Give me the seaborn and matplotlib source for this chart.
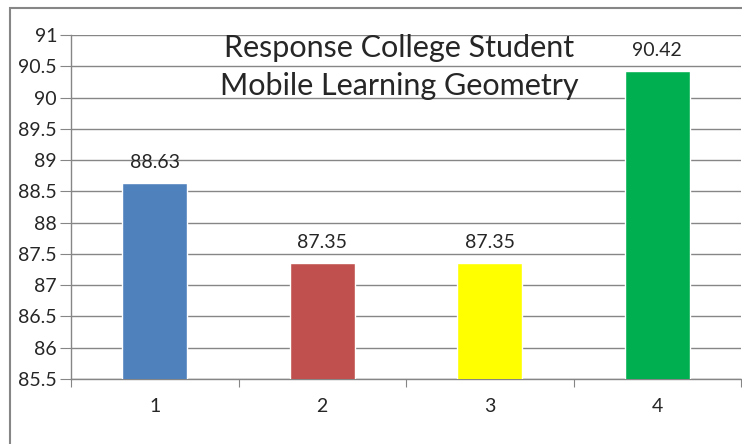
import matplotlib
matplotlib.use("Agg")
import matplotlib.pyplot as plt
import seaborn as sns
import pandas as pd
from matplotlib.patches import Rectangle

categories = ["1", "2", "3", "4"]
values = [88.63, 87.35, 87.35, 90.42]
colors = ["#4F81BD", "#C0504D", "#FFFF00", "#00B050"]
title_lines = ["Response College Student", "Mobile Learning Geometry"]
yticks = [85.5, 86, 86.5, 87, 87.5, 88, 88.5, 89, 89.5, 90, 90.5, 91]

sns.set_style("white")
plt.rcParams["font.family"] = ["Lato", "DejaVu Sans"]

W, H = 742, 444
fig = plt.figure(figsize=(W / 100, H / 100), dpi=100)
ax = fig.add_axes([71 / W, (H - 379) / H, (741 - 71) / W, (379 - 35) / H])

df = pd.DataFrame({"cat": categories, "val": values})
sns.barplot(data=df, x="cat", y="val", hue="cat", palette=colors, legend=False,
            width=0.39, ax=ax, saturation=1, zorder=3)

ax.set_ylim(85.5, 91)
ax.set_xlim(-0.5, 3.5)
ax.set_yticks(yticks)
ax.set_yticklabels([f"{t:g}" for t in yticks], fontsize=14)
ax.tick_params(axis="x", length=6, color="#868686", direction="out", bottom=True)
ax.tick_params(axis="y", length=8, color="#868686", direction="out", left=True, pad=2)
ax.set_xticks([-0.5, 0.5, 1.5, 2.5, 3.5], minor=False)
ax.set_xticklabels([])
ax.set_xticks([0, 1, 2, 3], minor=True)
ax.set_xticklabels(categories, minor=True, fontsize=14)
ax.tick_params(axis="x", which="minor", length=0, pad=14, labelsize=14)
ax.set_xlabel("")
ax.set_ylabel("")
ax.grid(axis="y", color="#868686", linewidth=1, zorder=0)
for s in ["top", "right"]:
    ax.spines[s].set_visible(False)
for s in ["left", "bottom"]:
    ax.spines[s].set_color("#868686")
    ax.spines[s].set_linewidth(1)

for i, v in enumerate(values):
    ax.annotate(f"{v:.2f}", (i, v), xytext=(0, 11), textcoords="offset points",
                ha="center", va="baseline", fontsize=14, zorder=5)

ax.text(0.4896, 0.936, title_lines[0], transform=ax.transAxes, ha="center", va="baseline", fontsize=22, zorder=6)
ax.text(0.4896, 0.8256, title_lines[1], transform=ax.transAxes, ha="center", va="baseline", fontsize=22, zorder=6)

fig.patches.append(Rectangle((10 / W, -0.1), 1.1, (H - 8) / H + 0.1, transform=fig.transFigure,
                             fill=False, edgecolor="#868686", linewidth=1.5))

fig.savefig("out.png", dpi=100)
